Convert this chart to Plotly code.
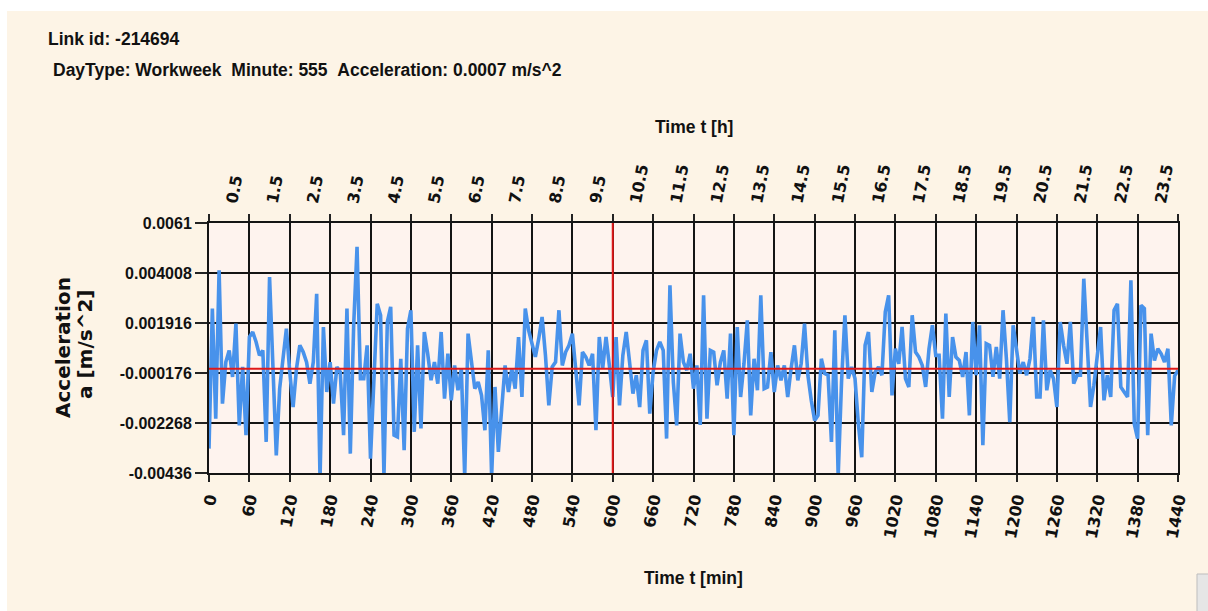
import plotly.graph_objects as go

# ---------------- data ----------------
minutes = list(range(0, 1441, 5))
accel = [
    -0.00334, 0.00252, -0.00209, 0.00412, -0.00146, 0.00028, 0.00077, -0.00034, 0.00189, -0.00237,
    0.00008, -0.00278, 0.00133, 0.00154, 0.00112, 0.00056, 0.00077, -0.00306, 0.00384, 0.00028,
    -0.00362, -0.00083, 0.00056, 0.00168, -0.00013, -0.00160, 0.00000, 0.00098, 0.00070, 0.00028,
    -0.00062, 0.00028, 0.00314, -0.00460, 0.00175, -0.00097, 0.00028, -0.00146, 0.00008, -0.00013,
    -0.00278, 0.00252, -0.00355, 0.00182, 0.00510, -0.00041, -0.00041, 0.00098, -0.00376, -0.00055,
    0.00272, 0.00224, -0.00450, 0.00196, 0.00259, -0.00278, -0.00285, 0.00042, -0.00341, 0.00168,
    0.00245, -0.00264, 0.00098, -0.00250, 0.00154, 0.00063, -0.00048, 0.00028, -0.00062, 0.00154,
    -0.00125, 0.00063, -0.00132, 0.00014, -0.00090, 0.00000, -0.00450, 0.00147, 0.00042, -0.00083,
    -0.00055, -0.00111, -0.00257, 0.00077, -0.00450, -0.00076, -0.00348, -0.00139, 0.00014, -0.00097,
    0.00000, -0.00083, 0.00133, -0.00118, 0.00252, 0.00161, 0.00098, 0.00050, 0.00126, 0.00217,
    0.00056, -0.00153, 0.00008, 0.00028, 0.00245, 0.00014, 0.00070, 0.00098, 0.00147, -0.00006,
    -0.00153, 0.00070, 0.00049, 0.00014, 0.00063, -0.00257, 0.00133, 0.00000, 0.00133, 0.00014,
    -0.00118, 0.00133, -0.00153, 0.00056, 0.00154, 0.00028, -0.00104, -0.00027, -0.00160, 0.00077,
    0.00119, -0.00188, -0.00013, 0.00077, 0.00112, 0.00077, -0.00292, 0.00349, -0.00055, -0.00237,
    0.00147, 0.00028, -0.00006, 0.00063, -0.00083, 0.00014, -0.00235, 0.00307, -0.00209, 0.00077,
    0.00070, -0.00069, 0.00028, 0.00077, -0.00125, 0.00147, -0.00278, 0.00175, -0.00118, 0.00021,
    0.00203, -0.00195, 0.00042, -0.00090, 0.00307, -0.00083, -0.00076, 0.00070, -0.00097, 0.00014,
    -0.00048, 0.00014, -0.00118, 0.00000, 0.00098, -0.00048, 0.00021, 0.00189, -0.00027, -0.00132,
    -0.00216, -0.00195, 0.00042, -0.00020, -0.00027, -0.00306, 0.00161, -0.00450, -0.00055, 0.00224,
    -0.00041, 0.00008, -0.00041, -0.00230, -0.00370, 0.00098, 0.00154, -0.00097, -0.00013, 0.00008,
    -0.00027, 0.00238, 0.00307, -0.00111, 0.00084, 0.00021, 0.00175, -0.00041, -0.00076, 0.00224,
    0.00070, 0.00049, 0.00014, -0.00076, 0.00084, 0.00182, 0.00056, 0.00056, -0.00209, 0.00231,
    -0.00118, 0.00133, 0.00049, 0.00035, -0.00034, 0.00070, -0.00195, 0.00196, -0.00027, 0.00182,
    -0.00320, 0.00105, 0.00098, -0.00034, 0.00091, -0.00041, 0.00245, 0.00042, -0.00223, 0.00182,
    0.00070, -0.00020, 0.00028, -0.00027, 0.00042, 0.00217, -0.00118, -0.00118, 0.00203, -0.00090,
    -0.00006, -0.00041, -0.00160, 0.00196, 0.00098, 0.00021, 0.00196, -0.00062, -0.00027, -0.00027,
    0.00377, 0.00084, -0.00160, -0.00069, 0.00056, 0.00175, -0.00132, -0.00027, -0.00118, 0.00245,
    0.00272, -0.00076, -0.00097, -0.00118, 0.00370, -0.00230, -0.00292, 0.00266, 0.00252, -0.00278,
    0.00147, 0.00035, 0.00084, 0.00063, 0.00028, 0.00084, -0.00237, -0.00030, -0.00006,
]

y_ticks = [-0.00436, -0.002268, -0.000176, 0.001916, 0.004008, 0.0061]
y_tick_text = ["-0.00436", "-0.002268", "-0.000176", "0.001916", "0.004008", "0.0061"]
min_ticks = list(range(0, 1441, 60))
min_tick_text = [str(m) for m in min_ticks]
hour_ticks = [h + 0.5 for h in range(24)]
hour_tick_text = [str(h) for h in hour_ticks]

zero_level = 0.0
current_minute = 600

title_line1 = "Link id: -214694"
title_line2 = "DayType: Workweek\u00a0\u00a0Minute: 555\u00a0\u00a0Acceleration: 0.0007 m/s^2"

# ---------------- style ----------------
W, H = 1208, 611
L, R, T, B = 209, 30, 223, 138
PW, PH = W - L - R, H - T - B

def px(xp):  # page x -> paper
    return (xp - L) / PW

def py(yp):  # page y -> paper
    return (H - B - yp) / PH

SANS = "Liberation Sans, Arial, sans-serif"
WIDE = "DejaVu Sans, Verdana, sans-serif"
CREAM = "#FDF4E6"
PLOTBG = "#FEF3EE"
BLUE = "#4892EB"
RED = "#E01818"
GRID = "#141414"
TXT = "#111"

fig = go.Figure()
fig.add_trace(go.Scatter(
    x=minutes, y=accel, mode="lines",
    line=dict(color=BLUE, width=3.6), showlegend=False, hoverinfo="x+y",
))
fig.add_trace(go.Scatter(
    x=[0, 24], y=[None, None], xaxis="x2", mode="lines",
    showlegend=False, hoverinfo="skip",
))

fig.update_layout(
    width=W, height=H, autosize=False,
    margin=dict(l=L, r=R, t=T, b=B, pad=0),
    paper_bgcolor=CREAM, plot_bgcolor=PLOTBG,
    xaxis=dict(
        range=[0, 1440], tickvals=min_ticks, ticktext=min_tick_text,
        ticks="outside", ticklen=7, tickwidth=1.5, tickcolor="#222",
        tickangle=-79, tickfont=dict(family=WIDE, size=16, color=TXT, weight="bold"),
        ticklabelstandoff=1,
        showgrid=True, gridcolor=GRID, gridwidth=2,
        showline=True, linecolor=GRID, linewidth=2, mirror="ticks",
        zeroline=False,
    ),
    xaxis2=dict(
        overlaying="x", side="top", anchor="y", range=[0, 24],
        tickvals=hour_ticks, ticktext=hour_tick_text, ticks="",
        tickangle=-79, tickfont=dict(family=WIDE, size=16, color=TXT, weight="bold"),
        ticklabelstandoff=8,
        showgrid=False, zeroline=False, showline=False,
    ),
    yaxis=dict(
        range=[-0.0043601, 0.0061001], tickvals=y_ticks, ticktext=y_tick_text,
        ticks="outside", ticklen=12, tickwidth=1.5, tickcolor="#222",
        tickfont=dict(family=SANS, size=16, color=TXT, weight="bold"),
        showgrid=True, gridcolor=GRID, gridwidth=2,
        showline=True, linecolor=GRID, linewidth=2, mirror=True,
        zeroline=False,
    ),
    shapes=[
        dict(type="line", xref="x", yref="y", x0=0, x1=1440, y0=zero_level, y1=zero_level,
             line=dict(color=RED, width=2), layer="above"),
        dict(type="line", xref="x", yref="y domain", x0=current_minute, x1=current_minute, y0=0, y1=1,
             line=dict(color=RED, width=2), layer="above"),
        # white strips above and left of the cream panel
        dict(type="rect", xref="paper", yref="paper", x0=px(-5), x1=px(W + 5), y0=py(11), y1=py(-5),
             fillcolor="white", line=dict(width=0), layer="below"),
        dict(type="rect", xref="paper", yref="paper", x0=px(-5), x1=px(7), y0=py(H + 5), y1=py(-5),
             fillcolor="white", line=dict(width=0), layer="below"),
        # scrollbar stub at the bottom right
        dict(type="rect", xref="paper", yref="paper", x0=px(1197), x1=px(1215), y0=py(620), y1=py(574),
             fillcolor="#E6E6E6", line=dict(color="#BDBDBD", width=1), layer="above"),
    ],
    annotations=[
        dict(text=title_line1, xref="paper", yref="paper", x=px(46), y=py(27),
             xanchor="left", yanchor="top", showarrow=False,
             font=dict(family=SANS, size=17.5, color=TXT, weight="bold")),
        dict(text=title_line2, xref="paper", yref="paper", x=px(51), y=py(58),
             xanchor="left", yanchor="top", showarrow=False,
             font=dict(family=SANS, size=17.5, color=TXT, weight="bold")),
        dict(text="Time t [h]", xref="paper", yref="paper", x=0.5, y=py(127),
             xanchor="center", yanchor="middle", showarrow=False,
             font=dict(family=SANS, size=17.5, color=TXT, weight="bold")),
        dict(text="Time t [min]", xref="paper", yref="paper", x=0.5, y=py(578),
             xanchor="center", yanchor="middle", showarrow=False,
             font=dict(family=SANS, size=17.5, color=TXT, weight="bold")),
        dict(text="Acceleration", xref="paper", yref="paper", x=px(63), y=py(348),
             xanchor="center", yanchor="middle", textangle=-90, showarrow=False,
             font=dict(family=WIDE, size=20, color=TXT, weight="bold")),
        dict(text="a [m/s^2]", xref="paper", yref="paper", x=px(85), y=py(345),
             xanchor="center", yanchor="middle", textangle=-90, showarrow=False,
             font=dict(family=WIDE, size=20, color=TXT, weight="bold")),
    ],
)

fig.write_html(
    "out.html",
    config={"displayModeBar": False},
    post_script="document.body.style.margin='0';document.body.style.overflow='hidden';",
)
